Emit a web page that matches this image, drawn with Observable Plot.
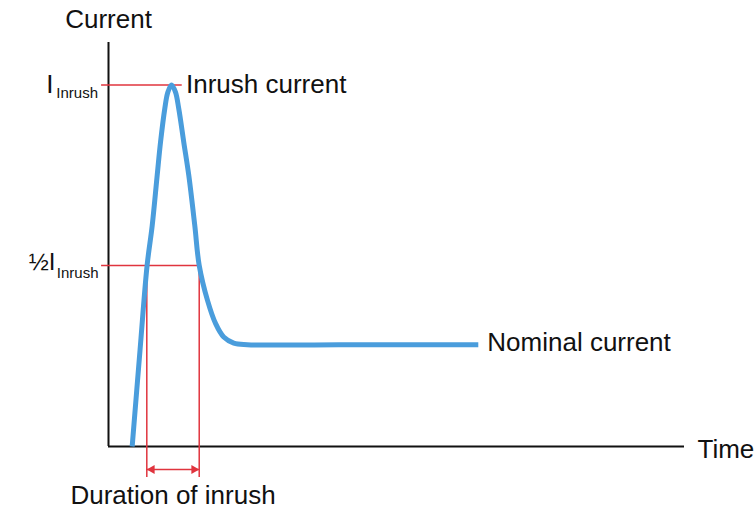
<!DOCTYPE html>
<html>
<head>
<meta charset="utf-8">
<script src="https://cdn.jsdelivr.net/npm/d3@7"></script>
<script src="https://cdn.jsdelivr.net/npm/@observablehq/plot@0.6"></script>
<style>
  html, body { margin: 0; padding: 0; background: #fff; }
  #chart svg { display: block; }
</style>
</head>
<body>
<div id="chart"></div>
<script>
// ---- data ----
const time    = [4.11, 5.47, 6.7, 7.59, 8.45, 9.03, 9.77, 10.3, 10.94, 11.63, 12.2, 13.07, 13.94, 14.98, 15.75, 17.2, 18.6, 20.0, 21.75, 24.1, 40, 64.2];
const current = [0,    23.8, 44.8, 54.7, 67.1, 75.3, 83.6, 87.7, 89.5,  87.7,  83.6, 75.3,  67.1,  54.7,  44.8,  36.1, 30.4, 27.1, 25.6,  25.2, 25.2, 25.2];

const peakTime = 10.94;
const peakCurrent = 89.5;
const halfCurrent = 44.8;
const riseTime = 6.65;     // rising edge crosses ½ I_inrush
const fallTime = 15.75;    // falling edge crosses ½ I_inrush
const nominalCurrent = 25.2;
const nominalEnd = 64.2;
const refStart = -1.2;     // reference lines start a little left of the axis
const peakRefEnd = 12.8;
const markerBottom = -7.7; // duration markers run below the time axis
const arrowLevel = -5.7;

const axisMax = 100;
const axisLabelY = "Current";
const axisLabelX = "Time";
const peakLabel = "Inrush current";
const nominalLabel = "Nominal current";
const durationLabel = "Duration of inrush";
const peakTickMain = "I";
const halfTickMain = "½I";
const tickSub = "Inrush";

const curve = time.map((t, i) => ({t, i: current[i]}));

const FONT = "Liberation Sans, Arial, Helvetica, sans-serif";
const BLUE = "#4a9ddc";
const RED = "#e0343e";
const INK = "#111";

const txt = (label, x, y, o) => Plot.text([label], {x: () => x, y: () => y, text: d => d, lineAnchor: "bottom", fill: INK, fontFamily: FONT, fontSize: 26, ...o});

const plot = Plot.plot({
  width: 756,
  height: 510,
  marginLeft: 108,
  marginRight: 72,
  marginTop: 42,
  marginBottom: 64,
  x: {domain: [0, axisMax], axis: null},
  y: {domain: [0, axisMax], axis: null},
  style: {fontFamily: FONT, background: "#fff"},
  marks: [
    // axes
    Plot.ruleX([0], {y1: 0, y2: axisMax, stroke: "#111", strokeWidth: 2}),
    Plot.ruleY([0], {x1: 0, x2: axisMax, stroke: "#111", strokeWidth: 2}),
    // red reference lines
    Plot.ruleY([peakCurrent], {x1: refStart, x2: peakRefEnd, stroke: RED, strokeWidth: 1.5}),
    Plot.ruleY([halfCurrent], {x1: refStart, x2: fallTime, stroke: RED, strokeWidth: 1.5}),
    Plot.ruleX([riseTime, fallTime], {y1: markerBottom, y2: halfCurrent, stroke: RED, strokeWidth: 1.5}),
    // duration arrow
    Plot.ruleY([arrowLevel], {x1: riseTime, x2: fallTime, stroke: RED, strokeWidth: 1.5}),
    Plot.dot([{t: riseTime, r: -90}, {t: fallTime, r: 90}], {
      x: "t", y: () => arrowLevel, rotate: "r", symbol: "triangle", r: 3.4,
      fill: RED, stroke: "none",
      render: (index, scales, values, dims, ctx, next) => {
        const g = next(index, scales, values, dims, ctx);
        d3.select(g).selectAll("path").each(function (_, k) {
          const tr = this.getAttribute("transform");
          this.setAttribute("transform", `translate(${index[k] === 0 ? 5.2 : -5.2},0) ` + tr);
        });
        return g;
      }
    }),
    // current curve
    Plot.line(curve, {x: "t", y: "i", stroke: BLUE, strokeWidth: 5, curve: "catmull-rom", strokeLinecap: "butt"}),
    // labels
    txt(axisLabelY, 0, axisMax, {textAnchor: "middle", dy: -15}),
    txt(axisLabelX, axisMax, 0, {textAnchor: "start", dx: 13, dy: 11}),
    txt(peakLabel, peakTime, peakCurrent, {textAnchor: "start", dx: 14.5, dy: 7.6}),
    txt(nominalLabel, nominalEnd, nominalCurrent, {textAnchor: "start", dx: 9, dy: 6}),
    txt(durationLabel, (riseTime + fallTime) / 2, arrowLevel, {textAnchor: "middle", dy: 34}),
    // tick-like labels on the current axis
    txt(peakTickMain, 0, peakCurrent, {textAnchor: "end", dx: -55, dy: 8}),
    txt(tickSub, 0, peakCurrent, {textAnchor: "end", fontSize: 15, dx: -10.5, dy: 12.6}),
    txt(halfTickMain, 0, halfCurrent, {textAnchor: "end", fontSize: 24, dx: -53, dy: 4}),
    txt(tickSub, 0, halfCurrent, {textAnchor: "end", fontSize: 15, dx: -10, dy: 12})
  ]
});
document.getElementById("chart").appendChild(plot);
</script>
</body>
</html>
